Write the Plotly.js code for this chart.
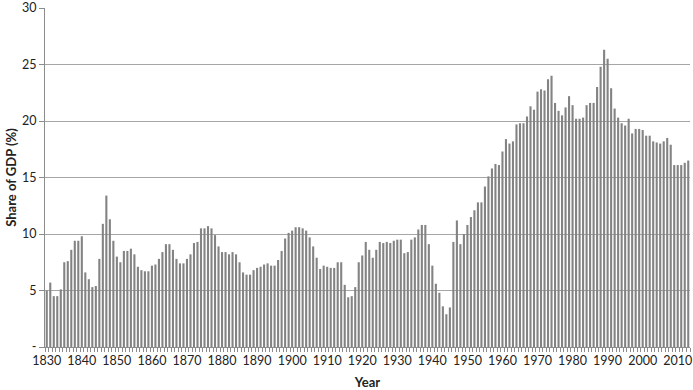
<!DOCTYPE html>
<html>
<head>
<meta charset="utf-8">
<script src="https://cdn.plot.ly/plotly-3.0.1.min.js"></script>
<style>html,body{margin:0;padding:0;background:#fff;}#chart{width:693px;height:390px;}</style>
</head>
<body>
<div id="chart"></div>
<script>
const startYear = 1830;
const shareOfGDP = [
  5.0, 5.7, 4.5, 4.5, 5.1, 7.5, 7.6, 8.6, 9.4, 9.4,      // 1830-1839
  9.8, 6.6, 6.0, 5.3, 5.4, 7.8, 10.9, 13.4, 11.3, 9.4,   // 1840-1849
  8.0, 7.5, 8.5, 8.5, 8.7, 8.2, 7.1, 6.8, 6.7, 6.7,      // 1850-1859
  7.2, 7.3, 7.8, 8.4, 9.1, 9.1, 8.6, 7.8, 7.4, 7.4,      // 1860-1869
  7.8, 8.2, 9.2, 9.3, 10.5, 10.5, 10.7, 10.5, 9.9, 8.9,  // 1870-1879
  8.4, 8.4, 8.2, 8.4, 8.2, 7.5, 6.6, 6.4, 6.4, 6.8,      // 1880-1889
  7.0, 7.1, 7.3, 7.4, 7.2, 7.2, 7.7, 8.5, 9.6, 10.1,     // 1890-1899
  10.3, 10.6, 10.6, 10.5, 10.3, 9.7, 8.9, 7.9, 6.9, 7.2, // 1900-1909
  7.1, 7.0, 7.0, 7.5, 7.5, 5.5, 4.4, 4.5, 5.3, 7.5,      // 1910-1919
  8.1, 9.3, 8.6, 7.9, 8.6, 9.3, 9.2, 9.3, 9.2, 9.4,      // 1920-1929
  9.5, 9.5, 8.3, 8.4, 9.5, 9.7, 10.4, 10.8, 10.8, 9.1,   // 1930-1939
  7.2, 5.6, 4.8, 3.6, 2.9, 3.5, 9.3, 11.2, 9.1, 10.0,    // 1940-1949
  10.8, 11.5, 12.1, 12.8, 12.8, 14.2, 15.1, 15.8, 16.2, 16.1, // 1950-1959
  17.3, 18.4, 18.0, 18.2, 19.7, 19.8, 19.8, 20.4, 21.3, 21.0, // 1960-1969
  22.6, 22.8, 22.7, 23.7, 24.0, 21.6, 20.9, 20.5, 21.2, 22.2, // 1970-1979
  21.4, 20.2, 20.2, 20.3, 21.4, 21.6, 21.6, 23.0, 24.8, 26.3, // 1980-1989
  25.5, 22.9, 21.1, 20.3, 19.8, 19.6, 20.2, 18.9, 19.3, 19.3, // 1990-1999
  19.2, 18.7, 18.7, 18.2, 18.1, 18.0, 18.2, 18.5, 17.9, 16.1, // 2000-2009
  16.1, 16.1, 16.3, 16.5                                       // 2010-2013
];
const years = shareOfGDP.map((_, i) => startYear + i);
const xTickVals = [1830,1840,1850,1860,1870,1880,1890,1900,1910,1920,1930,1940,1950,1960,1970,1980,1990,2000,2010];
const xTickText = xTickVals.map(String);
const yTickVals = [0,5,10,15,20,25,30];
const yTickText = ['-','5','10','15','20','25','30'];

const font = 'Lato, "Open Sans", sans-serif';
const trace = {
  type: 'bar',
  x: years,
  y: shareOfGDP,
  marker: {color: '#838383', line: {width: 0}},
  hoverinfo: 'x+y'
};
const layout = {
  width: 693, height: 390,
  margin: {l: 45, r: 3, t: 8, b: 43},
  paper_bgcolor: '#fff', plot_bgcolor: '#fff',
  bargap: 0.4,
  showlegend: false,
  font: {family: font, size: 12, color: '#222'},
  xaxis: {
    range: [1829.5, 2013.5],
    tickmode: 'array', tickvals: xTickVals, ticktext: xTickText,
    ticks: '', showgrid: false, zeroline: false,
    showline: true, linecolor: '#8c8c8c', linewidth: 1,
    ticklabelstandoff: 2,
    tickfont: {family: font, size: 12.5, color: '#222'},
    minor: {tick0: 1829.5, dtick: 1, ticks: 'outside', ticklen: 4, tickcolor: '#8c8c8c', tickwidth: 1, showgrid: false},
    title: {text: 'Year', font: {family: font, size: 13, color: '#222', weight: 'bold'}, standoff: 10},
    automargin: false
  },
  yaxis: {
    range: [0, 30],
    tickmode: 'array', tickvals: yTickVals, ticktext: yTickText,
    ticks: 'outside', ticklen: 5, tickcolor: '#8c8c8c',
    showgrid: true, gridcolor: '#a6a6a6', gridwidth: 1,
    zeroline: false, showline: true, linecolor: '#8c8c8c', linewidth: 1,
    tickfont: {family: font, size: 12.5, color: '#222'},
    title: {text: 'Share of GDP (%)', font: {family: font, size: 13, color: '#222', weight: 'bold'}, standoff: 2},
    automargin: false
  }
};
Plotly.newPlot('chart', [trace], layout, {displayModeBar: false, staticPlot: true});
</script>
</body>
</html>
